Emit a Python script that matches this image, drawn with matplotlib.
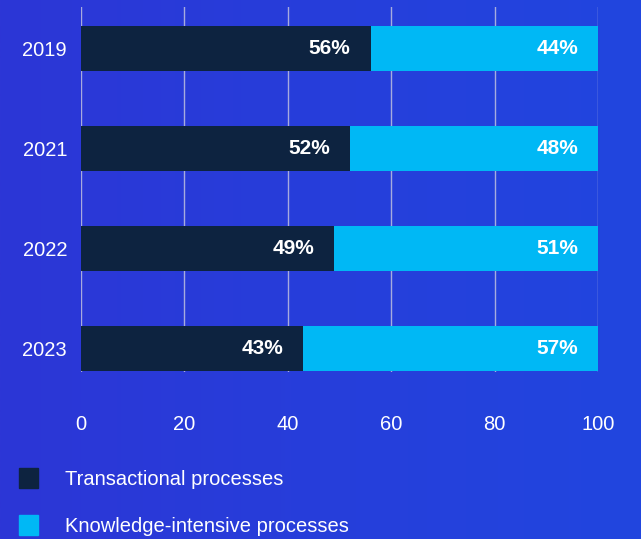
import matplotlib.pyplot as plt
import matplotlib.patches as mpatches
import numpy as np

plt.rcParams['font.family'] = ['Liberation Sans', 'DejaVu Sans']

years = ["2019", "2021", "2022", "2023"]
transactional = [56, 52, 49, 43]
knowledge = [44, 48, 51, 57]
series_names = ["Transactional processes", "Knowledge-intensive processes"]

dark = "#0D2340"
cyan = "#00B8F5"

fig = plt.figure(figsize=(6.41, 5.39), dpi=100)

# gradient background
bg = fig.add_axes([0, 0, 1, 1], zorder=-10)
grad = np.linspace(0, 1, 256).reshape(1, -1)
c0 = np.array([0x2C, 0x36, 0xD6]) / 255
c1 = np.array([0x21, 0x46, 0xDF]) / 255
img = c0[None, None, :] * (1 - grad[..., None]) + c1[None, None, :] * grad[..., None]
bg.imshow(img, aspect="auto", extent=[0, 1, 0, 1])
bg.axis("off")

ax = fig.add_axes([81 / 641, 1 - 372 / 539, 517 / 641, 365 / 539])
ax.set_facecolor("none")

y = np.arange(len(years))
ax.barh(y, transactional, height=0.45, color=dark, zorder=3)
ax.barh(y, knowledge, left=transactional, height=0.45, color=cyan, zorder=3)

for i in range(len(years)):
    t = transactional[i]
    k = knowledge[i]
    ax.annotate(f"{t}%", (t, i), xytext=(-20, 0), textcoords="offset pixels",
                ha="right", va="center", color="white", fontsize=15,
                fontweight="bold", zorder=4)
    ax.annotate(f"{k}%", (t + k, i), xytext=(-20, 0), textcoords="offset pixels",
                ha="right", va="center", color="white", fontsize=15,
                fontweight="bold", zorder=4)

ax.set_xlim(0, 100)
ax.set_ylim(len(years) - 1 + 0.235, -0.415)
ax.set_xticks([0, 20, 40, 60, 80, 100])
ax.set_yticks(y)
ax.set_yticklabels(years)
ax.tick_params(axis="both", length=0, colors="white", labelsize=14.5)
ax.tick_params(axis="x", pad=31)
ax.tick_params(axis="y", pad=10)
ax.grid(axis="x", color="#C8C8E0", linewidth=1, alpha=0.8, zorder=0)
for s in ax.spines.values():
    s.set_visible(False)

handles = [mpatches.Patch(color=dark), mpatches.Patch(color=cyan)]
leg = fig.legend(handles, series_names, loc="upper left",
                 bbox_to_anchor=(19 / 641, 1 - 468 / 539), frameon=False,
                 fontsize=14.5, handlelength=0.95, handleheight=1.15,
                 handletextpad=1.35, labelspacing=1.3, borderpad=0,
                 borderaxespad=0)
for txt in leg.get_texts():
    txt.set_color("white")

fig.savefig("out.png", dpi=100)
